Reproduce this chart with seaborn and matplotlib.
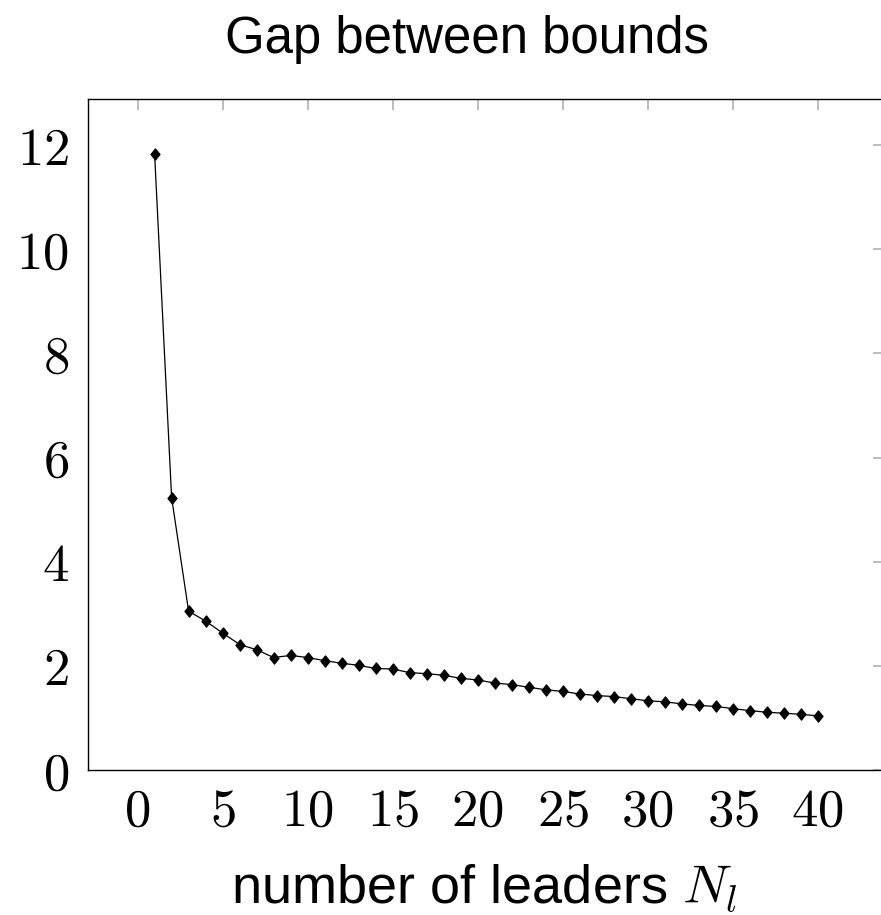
import matplotlib
matplotlib.use("Agg")
import matplotlib.pyplot as plt
import seaborn as sns
import numpy as np
import pandas as pd
from matplotlib.ticker import FuncFormatter

# data
leaders = list(range(1, 41))
gap = [11.83, 5.23, 3.05, 2.86, 2.63, 2.41, 2.31, 2.16, 2.20, 2.16,
       2.10, 2.05, 2.01, 1.95, 1.94, 1.87, 1.85, 1.82, 1.76, 1.73,
       1.67, 1.64, 1.59, 1.54, 1.51, 1.46, 1.43, 1.41, 1.37, 1.33,
       1.31, 1.27, 1.24, 1.22, 1.18, 1.14, 1.11, 1.09, 1.07, 1.04]
xticks = [0, 5, 10, 15, 20, 25, 30, 35, 40]
yticks = [0, 2, 4, 6, 8, 10, 12]

sns.set_style("white")
plt.rcParams['font.family'] = ['Liberation Sans', 'DejaVu Sans']
plt.rcParams['mathtext.fontset'] = 'cm'
plt.rcParams['text.color'] = 'black'
plt.rcParams['xtick.labelcolor'] = 'black'
plt.rcParams['ytick.labelcolor'] = 'black'

df = pd.DataFrame({"leaders": leaders, "gap": gap})

fig = plt.figure(figsize=(8.81, 9.15), dpi=100)
ax = fig.add_axes([88.3 / 881, 145 / 915, (884 - 88.3) / 881, (770 - 99.3) / 915])

diamond = [(0, 1), (0.8, 0), (0, -1), (-0.8, 0), (0, 1)]
sns.lineplot(data=df, x="leaders", y="gap", ax=ax, color="black",
             linewidth=0.9, marker=diamond, markersize=8.3,
             markeredgecolor="black", markerfacecolor="black")

ax.set_xlim(-2.9, 43.9)
ax.set_ylim(0, 12.88)
ax.set_xticks(xticks)
ax.set_yticks(yticks)
fmt = FuncFormatter(lambda v, p: f"${int(v)}$")
ax.xaxis.set_major_formatter(fmt)
ax.yaxis.set_major_formatter(fmt)
ax.tick_params(direction="in", length=8, width=1.1, color="#aaaaaa",
               labelcolor="black", top=True, right=True, labelsize=38, pad=14)
ax.tick_params(axis="x", pad=12)
for s in ax.spines.values():
    s.set_color("black")
    s.set_linewidth(1.0)
    s.set_visible(True)

ax.set_xlabel("")
ax.set_ylabel("")
fig.text(484 / 881, 1 - 903 / 915, r"number of leaders $N_l$", fontsize=39,
         ha="center", va="baseline", color="black")
fig.text(467 / 881, 1 - 53 / 915, "Gap between bounds", fontsize=36.7,
         ha="center", va="baseline", color="black")

fig.savefig("out.png", dpi=100)
